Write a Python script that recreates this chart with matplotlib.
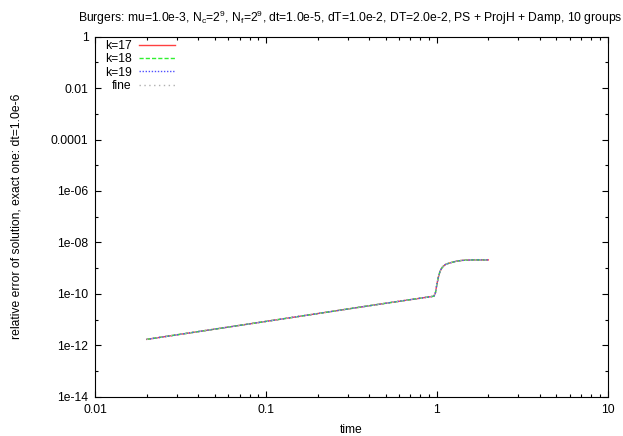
import numpy as np
import matplotlib
matplotlib.use('Agg')
import matplotlib.pyplot as plt
from matplotlib.ticker import FixedLocator, FixedFormatter, NullFormatter

plt.rcParams['font.family'] = ['Liberation Sans', 'DejaVu Sans']
plt.rcParams['mathtext.fontset'] = 'custom'
plt.rcParams['mathtext.rm'] = 'Liberation Sans'

# dane
time = [0.02, 0.1, 0.5, 0.96, 0.98, 1.0, 1.02, 1.04, 1.06, 1.08,
        1.12, 1.16, 1.2, 1.3, 1.4, 1.6, 1.8, 2.0]
err_k17 = [1.7e-12, 8.5e-12, 4.3e-11, 8.1e-11, 1.1e-10, 2.4e-10, 4.5e-10,
           7.1e-10, 9.3e-10, 1.12e-09, 1.38e-09, 1.51e-09, 1.62e-09,
           1.86e-09, 2.0e-09, 2.09e-09, 2.09e-09, 2.09e-09]
err_k18 = list(err_k17)
err_k19 = list(err_k17)
err_fine = list(err_k17)

labels = ['k=17', 'k=18', 'k=19', 'fine']
x_ticks = [0.01, 0.1, 1, 10]
x_tick_labels = ['0.01', '0.1', '1', '10']
y_ticks = [1e-14, 1e-12, 1e-10, 1e-08, 1e-06, 1e-04, 1e-02, 1]
y_tick_labels = ['1e-14', '1e-12', '1e-10', '1e-08', '1e-06', '0.0001', '0.01', '1']

fs = 8.7
fig = plt.figure(figsize=(6.23, 4.36), dpi=100)
ax = fig.add_axes([0.153, 0.0901, 0.8225, 0.8257])

ax.plot(time, err_k17, color='#ff4040', lw=1.0, ls='-', label=labels[0])
ax.plot(time, err_k18, color='#30f030', lw=1.0, ls=(0, (3, 1.5)), label=labels[1])
ax.plot(time, err_k19, color='#5050ff', lw=1.0, ls=(0, (1, 1.2)), label=labels[2])
ax.plot(time, err_fine, color='#b0b0b0', lw=1.0, ls=(0, (1, 2.5)), label=labels[3])

ax.set_xscale('log')
ax.set_yscale('log')
ax.set_xlim(0.01, 10)
ax.set_ylim(1e-14, 1)

ax.xaxis.set_major_locator(FixedLocator(x_ticks))
ax.xaxis.set_major_formatter(FixedFormatter(x_tick_labels))
x_minor = [m * 10.0 ** e for e in (-2, -1, 0) for m in range(2, 10)]
ax.xaxis.set_minor_locator(FixedLocator(x_minor))
ax.xaxis.set_minor_formatter(NullFormatter())

ax.yaxis.set_major_locator(FixedLocator(y_ticks))
ax.yaxis.set_major_formatter(FixedFormatter(y_tick_labels))
ax.yaxis.set_minor_locator(FixedLocator([10.0 ** e for e in range(-13, 0, 2)]))
ax.yaxis.set_minor_formatter(NullFormatter())

ax.tick_params(which='both', direction='in', top=True, right=True, labelsize=fs, width=0.8)
ax.tick_params(which='major', length=4, pad=5)
ax.tick_params(which='minor', length=2)
for s in ax.spines.values():
    s.set_linewidth(0.8)

ax.set_xlabel('time', fontsize=fs, labelpad=6)
ax.set_ylabel('relative error of solution, exact one: dt=1.0e-6', fontsize=fs, labelpad=20)
fig.text(0.563, 0.958,
         r'Burgers: mu=1.0e-3, N$_\mathregular{c}$=2$^\mathregular{9}$, '
         r'N$_\mathregular{f}$=2$^\mathregular{9}$, dt=1.0e-5, dT=1.0e-2, '
         r'DT=2.0e-2, PS + ProjH + Damp, 10 groups',
         ha='center', va='center', fontsize=fs)

ax.legend(loc='upper right', bbox_to_anchor=(0.281, 0.908), bbox_transform=fig.transFigure,
          frameon=False, markerfirst=False, fontsize=fs, handlelength=3.0,
          handletextpad=0.6, labelspacing=0.1, borderpad=0, borderaxespad=0)

fig.savefig('out.png', dpi=100)
